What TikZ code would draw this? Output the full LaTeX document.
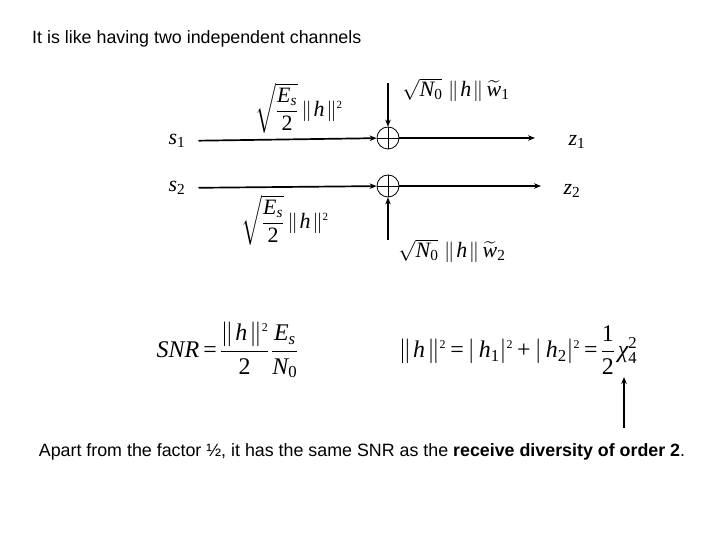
\documentclass[tikz,border=0pt]{standalone}
\usepackage{amsmath}
\usepackage[no-math]{fontspec}
\setmainfont{Liberation Sans}
\newfontfamily\serifmath{Liberation Serif}[NFSSFamily=libserif]
\DeclareSymbolFont{letters}{TU}{libserif}{m}{it}
\DeclareSymbolFont{operators}{TU}{libserif}{m}{n}
\usepackage{tikz}
\usetikzlibrary{arrows.meta, positioning}

\newcommand{\chisym}{\text{\serifmath\itshape χ}}
\newcommand{\sqd}{^{\scriptscriptstyle 2}}
\newcommand{\nrm}[1]{\|\mkern1.5mu #1\mkern1.5mu\|}
\newcommand{\tightmath}{\nulldelimiterspace=0pt\relax \thickmuskip=3mu\relax \medmuskip=3mu\relax}

\begin{document}
\begin{tikzpicture}[x=1bp, y=-1bp, >={Stealth[length=7pt,width=5.5pt]}]
    \tikzstyle{caption} = [font=\fontsize{17.9}{21}\selectfont, inner sep=0pt]
    \tikzstyle{sym} = [font=\fontsize{22}{26}\selectfont, inner sep=2pt]
    \tikzstyle{formula} = [font=\fontsize{24}{28}\selectfont\tightmath, inner sep=2pt]
    \tikzstyle{adder} = [circle, draw=black, line width=0.8pt, minimum size=22bp, inner sep=0pt]
    \tikzstyle{sig} = [->, line width=1.7pt]

    \useasboundingbox (0,0) rectangle (720,540);

    % Heading
    \node (title) [caption, anchor=west] at (32,39) {It is like having two independent channels};

    % Two parallel channels
    \node (s1) [sym] at (177,141) {$s_1$};
    \node (s2) [sym] at (177,188) {$s_2$};
    \node (add1) [adder] at (388,138) {};
    \node (add2) [adder] at (388,186) {};
    \draw[line width=0.8pt] (add1.north) -- (add1.south) (add1.west) -- (add1.east);
    \draw[line width=0.8pt] (add2.north) -- (add2.south) (add2.west) -- (add2.east);
    \node (z1) [sym] at (577,142) {$z_1$};
    \node (z2) [sym] at (572,191) {$z_2$};
    \coordinate (z1in) at (535,138);
    \coordinate (z2in) at (541,186);
    \coordinate (n1in) at (388,83);
    \coordinate (n2in) at (388,240);

    \draw[sig, shorten <=11pt] (s1) -- (add1);
    \draw[sig] (add1) -- (z1in);
    \draw[sig, shorten <=11pt] (s2) -- (add2);
    \draw[sig] (add2) -- (z2in);
    \draw[sig] (n1in) -- (add1);
    \draw[sig] (n2in) -- (add2);

    % Gains and noise terms
    \node (gain1) [sym] at (299,108) {$\sqrt{\dfrac{E_s}{2}}\,\nrm{h}\sqd$};
    \node (gain2) [sym] at (285,220) {$\sqrt{\dfrac{E_s}{2}}\,\nrm{h}\sqd$};
    \node (noise1) [sym] at (456,90) {$\sqrt{N_0}\;\nrm{h}\,\widetilde{w}_1$};
    \node (noise2) [sym] at (452,251) {$\sqrt{N_0}\;\nrm{h}\,\widetilde{w}_2$};

    % Formulas
    \node (snr) [formula] at (227,350) {$SNR=\dfrac{\nrm{h}\sqd}{2}\,\dfrac{E_s}{N_0}$};
    \node (norm) [formula] at (518,350) {$\nrm{h}\sqd=|\,h_1|\sqd+|\,h_2|\sqd=\dfrac{1}{2}\,\chisym_4^2$};
    \coordinate (chiin) at (624,428);
    \draw[sig] (chiin) -- (chiin |- norm.south);

    \node (remark) [caption] at (362,452) {Apart from the factor ½, it has the same SNR as the \textbf{receive diversity of order 2}.};
\end{tikzpicture}
\end{document}
